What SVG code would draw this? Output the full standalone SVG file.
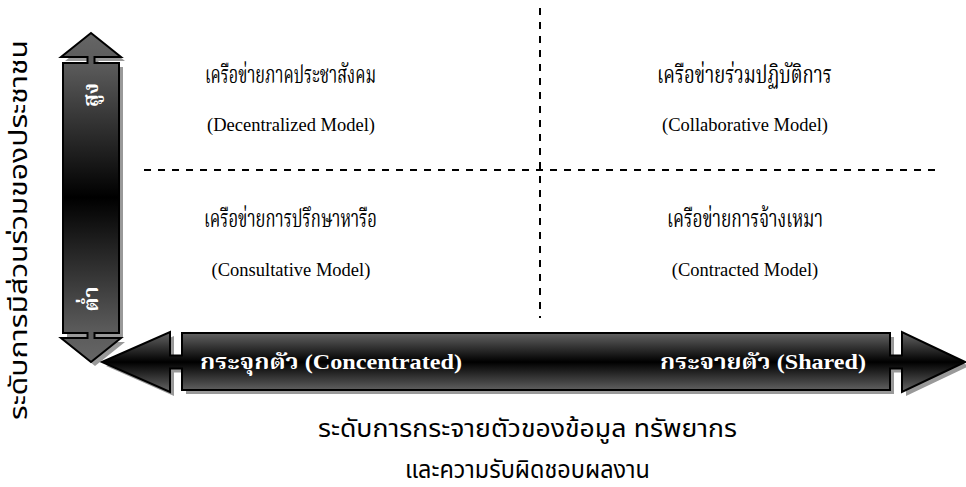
<svg xmlns="http://www.w3.org/2000/svg" width="966" height="487" viewBox="0 0 966 487">
<style>
.q{font-family:'Liberation Serif','Noto Serif Thai','Noto Sans Thai',serif;font-size:24px;fill:#000;text-anchor:middle}
.e{font-family:'Liberation Serif',serif;font-size:18.5px;fill:#000;text-anchor:middle}
.b{font-family:'Liberation Serif','Noto Serif Thai','Noto Sans Thai',serif;font-size:21px;font-weight:bold;fill:#fff}
.ax{font-family:'Liberation Sans','Noto Sans Thai','Noto Sans',sans-serif;font-size:24px;fill:#000;text-anchor:middle}
.dash{stroke:#000;stroke-width:2;stroke-dasharray:7 7;fill:none}
.shape{stroke:#000;stroke-width:2;stroke-linejoin:miter}
</style>
<defs>
<linearGradient id="gh" gradientUnits="userSpaceOnUse" x1="0" y1="332" x2="0" y2="392">
<stop offset="0" stop-color="#666"/><stop offset="0.5" stop-color="#000"/><stop offset="1" stop-color="#666"/>
</linearGradient>
<linearGradient id="gv" gradientUnits="userSpaceOnUse" x1="0" y1="33" x2="0" y2="362">
<stop offset="0" stop-color="#666"/><stop offset="0.1" stop-color="#5a5a5a"/><stop offset="0.5" stop-color="#000"/><stop offset="0.9" stop-color="#5a5a5a"/><stop offset="1" stop-color="#666"/>
</linearGradient>
<path id="vp" d="M91,33 L121,57 L94.5,57 L94.5,63 L119,63 L119,333 L94.5,333 L94.5,338 L121,338 L91,362 L61,338 L87.5,338 L87.5,333 L63,333 L63,63 L87.5,63 L87.5,57 L61,57 Z"/>
<path id="hp" d="M102,362 L170,332 L170,355.5 L182,355.5 L182,333 L890,333 L890,355.5 L902,355.5 L902,332 L965,362 L902,392 L902,368.5 L890,368.5 L890,390 L182,390 L182,368.5 L170,368.5 L170,392 Z"/>
</defs>

<g id="dividers">
<line class="dash" x1="144" y1="170" x2="940" y2="170"/>
<line class="dash" x1="540" y1="8" x2="540" y2="318"/>
</g>

<g id="vertical-axis">
<use href="#vp" transform="translate(4,4)" fill="#999"/>
<use href="#vp" class="shape" fill="url(#gv)"/>
<text class="b" transform="translate(98,95) rotate(-90)" text-anchor="middle" font-size="19">สูง</text>
<text class="b" transform="translate(98,299) rotate(-90)" text-anchor="middle" font-size="19">ต่ำ</text>
</g>

<g id="horizontal-axis">
<use href="#hp" transform="translate(4,4)" fill="#999"/>
<use href="#hp" class="shape" fill="url(#gh)"/>
<text class="b" x="200" y="369" textLength="262" lengthAdjust="spacingAndGlyphs">กระจุกตัว (Concentrated)</text>
<text class="b" x="660" y="369" textLength="206" lengthAdjust="spacingAndGlyphs">กระจายตัว (Shared)</text>
</g>

<g id="q-decentralized">
<text class="q" x="290.5" y="83" textLength="171" lengthAdjust="spacingAndGlyphs">เครือข่ายภาคประชาสังคม</text>
<text class="e" x="291" y="131">(Decentralized Model)</text>
</g>
<g id="q-collaborative">
<text class="q" x="744.5" y="83" textLength="175" lengthAdjust="spacingAndGlyphs">เครือข่ายร่วมปฏิบัติการ</text>
<text class="e" x="745" y="131">(Collaborative Model)</text>
</g>
<g id="q-consultative">
<text class="q" x="290.5" y="227" textLength="173" lengthAdjust="spacingAndGlyphs">เครือข่ายการปรึกษาหารือ</text>
<text class="e" x="291" y="276">(Consultative Model)</text>
</g>
<g id="q-contracted">
<text class="q" x="745" y="227" textLength="156" lengthAdjust="spacingAndGlyphs">เครือข่ายการจ้างเหมา</text>
<text class="e" x="745" y="276">(Contracted Model)</text>
</g>

<g id="labels">
<text class="ax" transform="translate(27,230) rotate(-90)" textLength="380" lengthAdjust="spacingAndGlyphs">ระดับการมีส่วนร่วมของประชาชน</text>
<text class="ax" x="527.5" y="437" textLength="419" lengthAdjust="spacingAndGlyphs">ระดับการกระจายตัวของข้อมูล ทรัพยากร</text>
<text class="ax" x="527.5" y="478" textLength="245" lengthAdjust="spacingAndGlyphs">และความรับผิดชอบผลงาน</text>
</g>
</svg>
